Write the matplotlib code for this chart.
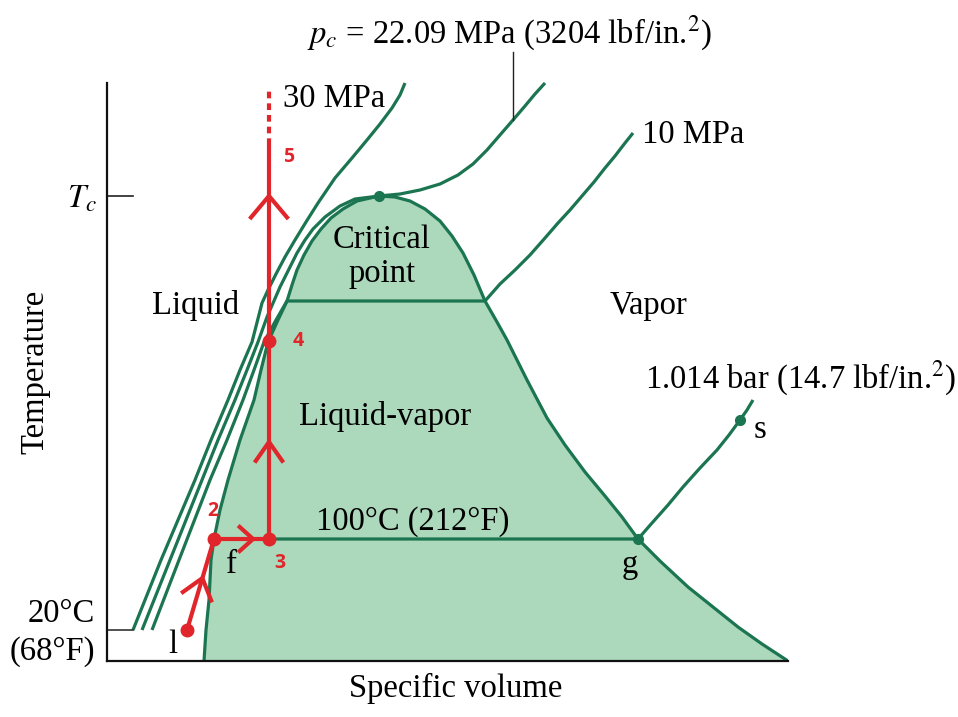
import numpy as np
import matplotlib
matplotlib.use("Agg")
from matplotlib import pyplot as plt

plt.rcParams['font.family'] = ['Liberation Serif', 'DejaVu Serif']
plt.rcParams['mathtext.fontset'] = 'stix'

# picture units: x = specific volume (px), y = temperature (px, grows downwards)
sat_liq_v = [204, 206, 209, 211, 214, 220, 228, 240, 254, 261, 268, 278, 287, 292, 297, 304,
             312, 321, 331, 343, 357, 379]
sat_liq_T = [661, 630, 600, 560, 539, 510, 480, 440, 400, 370, 342, 320, 301, 285, 270, 255,
             241, 229, 218, 209, 201, 196]
sat_vap_v = [379, 395, 410, 425, 440, 452, 463, 474, 485, 497, 507, 517, 527, 537, 547, 565,
             585, 605, 622, 638, 660, 688, 713, 738, 762, 788]
sat_vap_T = [196, 197, 201, 209, 221, 236, 253, 275, 301, 322, 340, 360, 380, 399, 418, 445,
             472, 496, 517, 539, 561, 587, 607, 627, 644, 661]

p30_v = [133, 161, 195, 211, 228, 240, 252, 262, 268, 276, 285, 295, 306, 318, 335, 352, 367,
         380, 392, 400, 405]
p30_T = [630, 560, 480, 440, 400, 370, 342, 303, 290, 274, 257, 240, 222, 203, 178, 158, 140,
         124, 108, 95, 83]
p22_v = [142, 170, 202, 218, 235, 247, 258, 267, 280, 297, 305, 313, 325, 340, 355, 379, 400,
         420, 440, 458, 473, 487, 500, 513, 525, 535, 545]
p22_T = [630, 560, 480, 440, 400, 370, 342, 317, 287, 253, 240, 229, 217, 206, 199, 196, 194,
         190, 184, 175, 164, 150, 135, 120, 106, 94, 83]
p10_v = [152, 179, 210, 227, 243, 254, 264, 276, 287, 485, 500, 515, 530, 545, 558, 570, 582,
         594, 605, 615, 625, 633]
p10_T = [630, 560, 480, 440, 400, 370, 342, 320, 301, 301, 284, 270, 255, 238, 223, 210, 196,
         182, 168, 156, 143, 133]
p1_v = [214, 638, 652, 668, 683, 700, 717, 729, 740, 747, 753]
p1_T = [539, 539, 523, 505, 487, 468, 450, 435, 420, 410, 400]

crit = (379, 196)
g_pt = (638, 539)
s_pt = (740, 420)

# red process path 1-2-3-4-5
path_v = [187, 214, 269, 269, 269]
path_T = [630, 539, 539, 341, 145]
path_lab = ['', '2', '3', '4', '5']
dash_T = [145, 88]

green = '#1b7551'
fill_c = '#acd8bb'
red = '#e0252b'

fig = plt.figure(figsize=(9.58, 7.17), dpi=100)
ax = fig.add_axes([107/958, (717-661)/717, (788-107)/958, (661-83)/717])
ax.set_xlim(107, 788)
ax.set_ylim(661, 83)
ax.set_xticks([])
ax.set_yticks([])
for k in ['top', 'right']:
    ax.spines[k].set_visible(False)
for k in ['left', 'bottom']:
    ax.spines[k].set_linewidth(1.6)
    ax.spines[k].set_color('#111111')

# two-phase dome
ax.fill(sat_liq_v + sat_vap_v, sat_liq_T + sat_vap_T, color=fill_c, lw=0, zorder=1)
ax.plot(sat_liq_v, sat_liq_T, color=green, lw=2.3, zorder=2, solid_joinstyle='round')
ax.plot(sat_vap_v, sat_vap_T, color=green, lw=2.3, zorder=2, solid_joinstyle='round')

for v, T in [(p30_v, p30_T), (p22_v, p22_T), (p10_v, p10_T), (p1_v, p1_T)]:
    ax.plot(v, T, color=green, lw=2.3, zorder=2, clip_on=False,
            solid_capstyle='butt', solid_joinstyle='round')

ax.plot(*crit, 'o', color=green, ms=7, zorder=3)
ax.plot(*g_pt, 'o', color=green, ms=7, zorder=3)
ax.plot(*s_pt, 'o', color=green, ms=7, zorder=3)

# reference ticks
ax.plot([107, 133], [crit[1], crit[1]], color='#222222', lw=1.2, clip_on=False)
ax.plot([107, p30_v[0]], [p30_T[0], p30_T[0]], color='#333333', lw=1.2, clip_on=False)
ax.plot([513, 513], [52, 120], color='#222222', lw=1.0, clip_on=False)

# red path
ax.plot(path_v, path_T, color=red, lw=3, zorder=5, solid_capstyle='butt')
ax.plot([path_v[-1]] * 2, dash_T, color=red, lw=3, ls=(0, (1.6, 1.2)), zorder=5, clip_on=False)
ax.plot(path_v[:4], path_T[:4], 'o', color=red, ms=9, zorder=6)


def chevron(i, frac, arm, ang):
    x0, y0, x1, y1 = path_v[i], path_T[i], path_v[i+1], path_T[i+1]
    tx, ty = x0 + frac*(x1-x0), y0 + frac*(y1-y0)
    d = np.array([x0-x1, y0-y1], float)
    d /= np.hypot(*d)
    pts = []
    for s in (1, -1):
        a = np.radians(s*ang)
        r = np.array([d[0]*np.cos(a) - d[1]*np.sin(a), d[0]*np.sin(a) + d[1]*np.cos(a)])
        pts.append((tx + arm*r[0], ty + arm*r[1]))
    ax.plot([pts[0][0], tx, pts[1][0]], [pts[0][1], ty, pts[1][1]],
            color=red, lw=3, zorder=5, solid_joinstyle='miter')


chevron(0, 0.57, 24, 38)
chevron(1, 0.71, 18, 42)
chevron(2, 0.49, 23, 35)
chevron(3, 0.74, 28, 40)

lab_off = [(0, 0), (-1, -28), (11, 24), (29, 0), (20, 12)]
for v, T, t, (dx, dy) in zip(path_v, path_T, path_lab, lab_off):
    if t:
        ax.text(v + dx, T + dy, t, color=red, fontsize=14, fontweight='bold',
                family='Open Sans', ha='center', va='center')

fs = 23.5
ax.text(307, 43, r'$p_c$ = 22.09 MPa (3204 lbf/in.$^2$)', fontsize=fs, ha='left', va='baseline')
ax.text(283, 107, '30 MPa', fontsize=fs, ha='left', va='baseline')
ax.text(642, 143, '10 MPa', fontsize=fs, ha='left', va='baseline')
ax.text(97, 207, r'$T_c$', fontsize=fs, ha='right', va='baseline')
ax.text(382, 248, 'Critical', fontsize=fs, ha='center', va='baseline')
ax.text(382, 282, 'point', fontsize=fs, ha='center', va='baseline')
ax.text(196, 314, 'Liquid', fontsize=fs, ha='center', va='baseline')
ax.text(648, 314, 'Vapor', fontsize=fs, ha='center', va='baseline')
ax.text(645, 388, '1.014 bar (14.7 lbf/in.$^2$)', fontsize=fs, ha='left', va='baseline')
ax.text(760, 438, 's', fontsize=fs, ha='center', va='baseline')
ax.text(385, 425, 'Liquid-vapor', fontsize=fs, ha='center', va='baseline')
ax.text(316, 530, '100°C (212°F)', fontsize=fs, ha='left', va='baseline')
ax.text(231, 573, 'f', fontsize=fs, ha='center', va='baseline')
ax.text(630, 573, 'g', fontsize=fs, ha='center', va='baseline')
ax.text(95, 622, '20°C', fontsize=fs, ha='right', va='baseline')
ax.text(95, 660, '(68°F)', fontsize=fs, ha='right', va='baseline')
ax.text(173, 653, 'l', fontsize=fs, ha='center', va='baseline')
ax.text(35, 372, 'Temperature', fontsize=fs, ha='center', va='center', rotation=90)
ax.text(456, 697, 'Specific volume', fontsize=fs, ha='center', va='baseline')

plt.savefig('out.png', dpi=100)
